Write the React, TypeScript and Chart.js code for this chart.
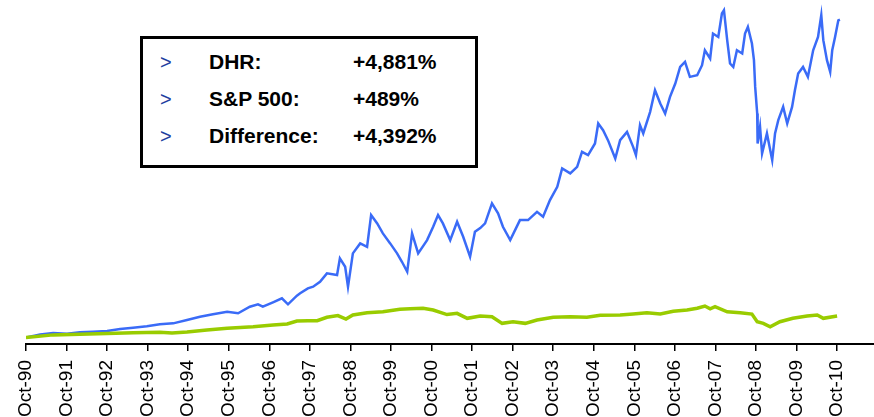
import React, { useEffect, useRef } from "react";
import { Chart, registerables } from "chart.js";

Chart.register(...registerables);

// Tick labels (one per October)
const TICK_LABELS = [
  "Oct-90", "Oct-91", "Oct-92", "Oct-93", "Oct-94", "Oct-95", "Oct-96",
  "Oct-97", "Oct-98", "Oct-99", "Oct-00", "Oct-01", "Oct-02", "Oct-03",
  "Oct-04", "Oct-05", "Oct-06", "Oct-07", "Oct-08", "Oct-09", "Oct-10",
];
const FIRST_TICK_YEAR = 1990.75;

// DHR: growth of $1 (decimal years)
const DHR_T = [
  1990.75, 1991.1, 1991.42, 1991.76, 1992.08, 1992.4, 1992.75, 1993.07, 1993.39, 1993.73,
  1994.05, 1994.38, 1994.72, 1995.04, 1995.36, 1995.71, 1995.98, 1996.27, 1996.47, 1996.59,
  1996.84, 1997.06, 1997.21, 1997.43, 1997.51, 1997.7, 1997.83, 1998.0, 1998.17, 1998.42,
  1998.49, 1998.62, 1998.69, 1998.81, 1998.99, 1999.16, 1999.26, 1999.41, 1999.55, 1999.73,
  1999.9, 2000.02, 2000.15, 2000.27, 2000.42, 2000.64, 2000.79, 2000.91, 2001.03, 2001.21,
  2001.38, 2001.53, 2001.7, 2001.82, 2001.95, 2002.07, 2002.24, 2002.39, 2002.51, 2002.69,
  2002.93, 2003.13, 2003.35, 2003.5, 2003.67, 2003.85, 2003.97, 2004.17, 2004.34, 2004.46,
  2004.61, 2004.78, 2004.86, 2004.98, 2005.1, 2005.28, 2005.4, 2005.57, 2005.72, 2005.79,
  2005.89, 2005.97, 2006.14, 2006.26, 2006.39, 2006.51, 2006.63, 2006.76, 2006.88, 2007.0,
  2007.12, 2007.3, 2007.42, 2007.49, 2007.62, 2007.69, 2007.82, 2007.91, 2007.96, 2008.04,
  2008.11, 2008.19, 2008.28, 2008.41, 2008.48, 2008.55, 2008.65, 2008.7, 2008.73, 2008.78,
  2008.79, 2008.85, 2008.9, 2009.02, 2009.15, 2009.22, 2009.3, 2009.42, 2009.52, 2009.64,
  2009.71, 2009.79, 2009.91, 2010.03, 2010.16, 2010.28, 2010.36, 2010.41, 2010.5, 2010.58,
  2010.63, 2010.7, 2010.78, 2010.82,
];
const DHR_V = [
  1.0, 1.45, 1.7, 1.58, 1.79, 1.89, 1.99, 2.3, 2.5, 2.71,
  3.02, 3.17, 3.68, 4.19, 4.56, 4.95, 4.71, 5.72, 6.09, 5.72,
  6.4, 7.01, 6.09, 7.41, 7.78, 8.54, 8.79, 9.56, 10.84, 10.58,
  13.14, 11.86, 8.79, 13.91, 15.44, 14.92, 19.79, 18.51, 16.98, 15.44,
  13.91, 12.62, 11.09, 16.98, 13.91, 15.95, 17.99, 19.79, 18.51, 15.95,
  18.76, 16.46, 13.39, 17.22, 17.79, 18.51, 21.58, 20.05, 17.99, 15.95,
  19.02, 19.02, 20.29, 19.52, 22.09, 24.13, 26.95, 26.18, 27.19, 29.49,
  28.99, 30.78, 33.85, 32.82, 31.29, 28.48, 31.29, 32.56, 30.26, 28.99,
  33.59, 32.32, 35.63, 38.96, 36.92, 35.38, 37.93, 39.98, 42.53, 43.3,
  41.0, 41.26, 42.79, 45.09, 43.82, 47.65, 47.13, 50.72, 51.23, 46.63,
  43.05, 42.53, 45.09, 44.59, 47.65, 48.66, 46.12, 43.56, 39.46, 35.38,
  30.78, 33.33, 29.25, 32.32, 28.22, 32.32, 34.36, 36.4, 33.85, 36.4,
  38.96, 41.52, 42.53, 41.0, 45.09, 47.13, 50.46, 46.63, 43.56, 41.76,
  45.09, 47.13, 49.69, 49.8,
];

// S&P 500: growth of $1 (decimal years)
const SPX_T = [
  1990.75, 1991.42, 1992.08, 1992.75, 1993.39, 1994.05, 1994.35, 1994.72, 1995.21, 1995.71,
  1996.35, 1996.84, 1997.19, 1997.43, 1997.7, 1997.93, 1998.17, 1998.44, 1998.64, 1998.81,
  1999.16, 1999.55, 1999.97, 2000.22, 2000.54, 2000.79, 2001.13, 2001.38, 2001.63, 2001.95,
  2002.24, 2002.49, 2002.76, 2003.06, 2003.35, 2003.75, 2004.17, 2004.58, 2004.91, 2005.4,
  2005.72, 2006.06, 2006.39, 2006.71, 2007.05, 2007.3, 2007.49, 2007.62, 2007.74, 2008.04,
  2008.36, 2008.65, 2008.78, 2008.93, 2009.1, 2009.34, 2009.66, 2010.01, 2010.26, 2010.41,
  2010.75,
];
const SPX_V = [
  1.0, 1.4, 1.5, 1.6, 1.72, 1.8, 1.69, 1.85, 2.15, 2.41,
  2.65, 2.91, 3.07, 3.53, 3.57, 3.57, 4.1, 4.37, 3.83, 4.45,
  4.8, 4.95, 5.32, 5.41, 5.48, 5.21, 4.52, 4.71, 3.94, 4.29,
  4.19, 3.17, 3.42, 3.17, 3.68, 4.1, 4.19, 4.1, 4.4, 4.45,
  4.6, 4.8, 4.6, 5.02, 5.21, 5.48, 5.83, 5.41, 5.72, 4.95,
  4.8, 4.6, 3.42, 3.17, 2.65, 3.42, 3.94, 4.29, 4.45, 3.94,
  4.29,
];

// Summary box
const SUMMARY_NAMES = ["DHR:", "S&P 500:", "Difference:"];
const SUMMARY_VALUES = ["+4,881%", "+489%", "+4,392%"];

const FONT = "'Liberation Sans', Arial, Helvetica, sans-serif";

export default function App() {
  const canvasRef = useRef<HTMLCanvasElement | null>(null);

  useEffect(() => {
    const canvas = canvasRef.current;
    if (!canvas) return;
    const chart = new Chart(canvas, {
      type: "line",
      data: {
        datasets: [
          {
            label: "S&P 500",
            data: SPX_T.map((t, i) => ({ x: t, y: SPX_V[i] })),
            borderColor: "#99CC00",
            borderWidth: 3.5,
            pointRadius: 0,
            tension: 0,
          },
          {
            label: "DHR",
            data: DHR_T.map((t, i) => ({ x: t, y: DHR_V[i] })),
            borderColor: "#3A6BF7",
            borderWidth: 2.5,
            pointRadius: 0,
            tension: 0,
          },
        ],
      },
      options: {
        responsive: false,
        animation: false,
        layout: { padding: { left: 26, right: 0, top: 0, bottom: 0 } },
        plugins: {
          legend: { display: false },
          tooltip: { enabled: false },
        },
        scales: {
          x: {
            type: "linear",
            min: FIRST_TICK_YEAR,
            max: 2011.66,
            afterBuildTicks: (scale: any) => {
              scale.ticks = TICK_LABELS.map((_, i) => ({ value: FIRST_TICK_YEAR + i }));
            },
            afterFit: (scale: any) => {
              scale.height = 73;
            },
            ticks: {
              autoSkip: false,
              maxRotation: 90,
              minRotation: 90,
              padding: 9,
              color: "#000",
              font: { family: FONT, size: 19 },
              callback: (_v: any, i: number) => TICK_LABELS[i],
            },
            grid: {
              drawOnChartArea: false,
              drawTicks: true,
              tickLength: 7,
              color: "#000",
              lineWidth: 1.5,
            },
            border: { display: true, color: "#000", width: 2 },
          },
          y: {
            display: false,
            min: 0,
            max: 52.8,
          },
        },
      },
    });
    return () => chart.destroy();
  }, []);

  const rowTops = [11, 48, 85];

  return (
    <div style={{ position: "absolute", left: 0, top: 0, width: 874, height: 417, background: "#fff" }}>
      <canvas ref={canvasRef} width={874} height={417} style={{ display: "block" }} />
      <div
        style={{
          position: "absolute",
          left: 140,
          top: 36,
          width: 338,
          height: 132,
          boxSizing: "border-box",
          border: "3px solid #000",
          background: "#fff",
          fontFamily: FONT,
        }}
      >
        {SUMMARY_NAMES.map((name, i) => (
          <React.Fragment key={name}>
            <span style={{ position: "absolute", left: 17, top: rowTops[i], lineHeight: "24px", fontSize: 20, color: "#1F3F9F" }}>
              &gt;
            </span>
            <span style={{ position: "absolute", left: 66, top: rowTops[i], lineHeight: "24px", fontSize: 21, fontWeight: "bold", color: "#000" }}>
              {name}
            </span>
            <span style={{ position: "absolute", left: 210, top: rowTops[i], lineHeight: "24px", fontSize: 21, fontWeight: "bold", color: "#000" }}>
              {SUMMARY_VALUES[i]}
            </span>
          </React.Fragment>
        ))}
      </div>
    </div>
  );
}
